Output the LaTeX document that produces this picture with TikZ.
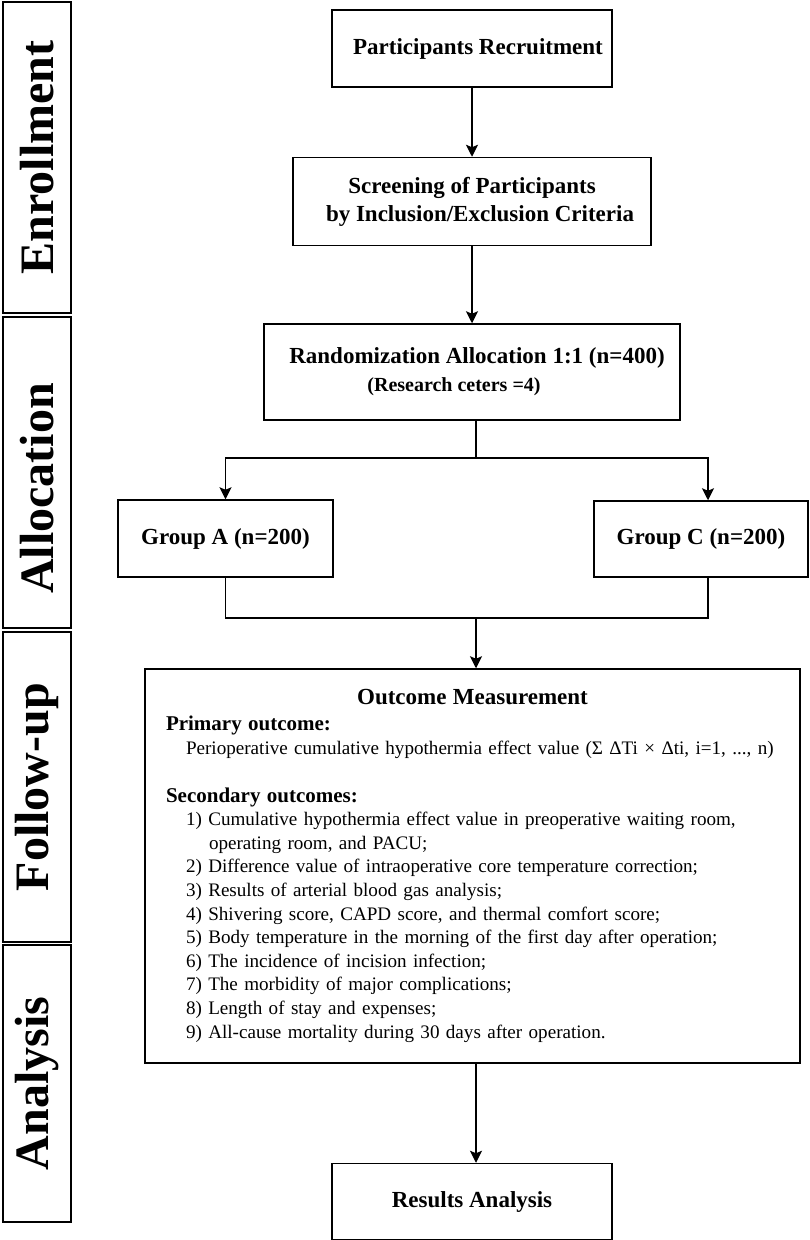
\documentclass[tikz,border=0pt]{standalone}
\usepackage{fontspec}
\setmainfont{Liberation Serif}
\usetikzlibrary{arrows.meta, positioning}

\begin{document}
\begin{tikzpicture}[x=1pt, y=-1pt, node distance=70pt,
    flowbox/.style = {draw, line width=1.5pt, inner sep=0pt, align=center, font=\bfseries\fontsize{23}{28}\selectfont},
    stagebox/.style = {draw, line width=2pt, inner sep=0pt, rotate=90, minimum height=68pt, font=\bfseries\fontsize{48}{48}\selectfont},
    outbox/.style = {draw, line width=1.5pt, inner xsep=21pt, inner ysep=0pt, text width=613pt, align=left, font=\fontsize{19.1}{23.6}\selectfont},
    conn/.style = {line width=1.3pt},
    connarrow/.style = {conn, -{Stealth[length=12pt, width=12pt, inset=2.5pt]}}]
    \useasboundingbox (0,0) rectangle (810,1240);

    % stages on the left
    \node[stagebox, minimum width=311pt] (enroll) at (37, 157.5) {Enrollment};
    \node[stagebox, minimum width=311pt] (alloc) at (37, 472.5) {Allocation\hspace*{32pt}};
    \node[stagebox, minimum width=310pt] (follow) at (37, 787) {Follow-up};
    \node[stagebox, minimum width=277pt] (analys) at (37, 1083.5) {Analysis};

    % main flow
    \node[flowbox, minimum width=280pt, minimum height=77pt] (recruit) at (472, 48.5) {\hspace*{12pt}Participants Recruitment};
    \node[flowbox, minimum width=358pt, minimum height=88pt] (screen) [below=69pt of recruit] {Screening of Participants\\\hspace*{16pt}by Inclusion/Exclusion Criteria};
    \node[flowbox, minimum width=416pt, minimum height=96pt] (random) [below=77pt of screen] {\hspace*{10pt}Randomization Allocation 1:1 (n=400)\\{\fontsize{20}{28}\selectfont (Research ceters =4)}\hspace*{36pt}};

    \node[flowbox, minimum width=215pt, minimum height=77pt] (groupA) at (225.5, 538.5) {Group A (n=200)};
    \node[flowbox, minimum width=214pt, minimum height=76pt] (groupC) at (701, 539) {Group C (n=200)};

    \node[outbox, minimum width=655pt, minimum height=394pt] (outcome) at (472.5, 866) {%
        \makebox[613pt]{\fontsize{23}{23.6}\selectfont\bfseries Outcome Measurement}\\[2.4pt]
        {\fontsize{21}{23.6}\selectfont\bfseries Primary outcome:}\\
        \hspace*{20pt}\mbox{Perioperative cumulative hypothermia effect value (Σ ΔTi × Δti, i=1, ..., n)}\\[24pt]
        {\fontsize{21}{23.6}\selectfont\bfseries Secondary outcomes:}\\
        \hspace*{20pt}1) Cumulative hypothermia effect value in preoperative waiting room,\\
        \hspace*{43pt}operating room, and PACU;\\
        \hspace*{20pt}2) Difference value of intraoperative core temperature correction;\\
        \hspace*{20pt}3) Results of arterial blood gas analysis;\\
        \hspace*{20pt}4) Shivering score, CAPD score, and thermal comfort score;\\
        \hspace*{20pt}5) Body temperature in the morning of the first day after operation;\\
        \hspace*{20pt}6) The incidence of incision infection;\\
        \hspace*{20pt}7) The morbidity of major complications;\\
        \hspace*{20pt}8) Length of stay and expenses;\\
        \hspace*{20pt}9) All-cause mortality during 30 days after operation.};

    \node[flowbox, minimum width=280pt, minimum height=76pt] (results) [below=99pt of outcome.south -| recruit] {Results Analysis};

    \coordinate (split) at (476, 458);
    \coordinate (join) at (476, 618);

    \draw[connarrow] (recruit) -- (screen);
    \draw[connarrow] (screen) -- (random);
    \draw[conn] (random.south -| split) -- (split);
    \draw[connarrow] (split) -| (groupA.north);
    \draw[connarrow] (split) -| ([xshift=7pt]groupC.north);
    \draw[conn] (groupA.south) |- (join);
    \draw[conn] ([xshift=7pt]groupC.south) |- (join);
    \draw[connarrow] (join) -- (outcome.north -| join);
    \draw[connarrow] (outcome.south -| join) -- (results.north -| join);
\end{tikzpicture}
\end{document}
